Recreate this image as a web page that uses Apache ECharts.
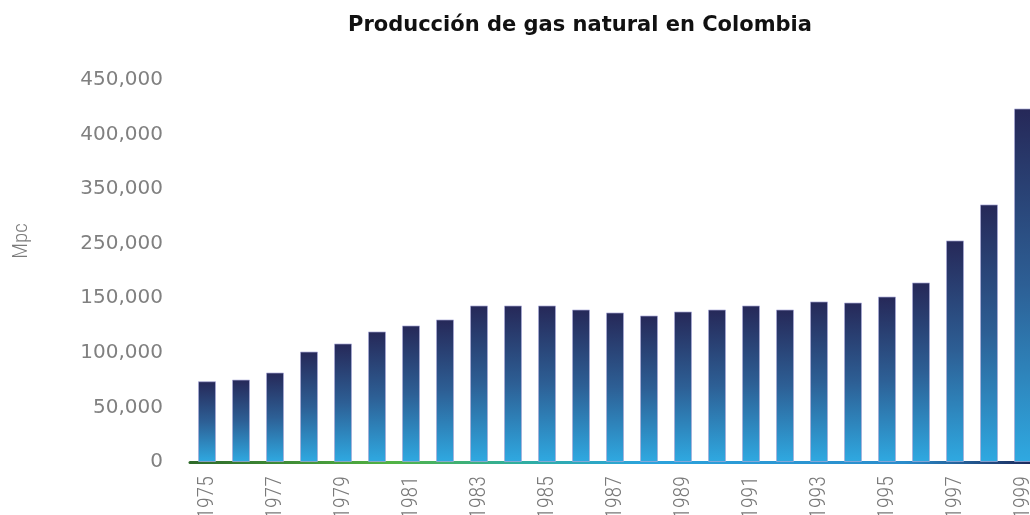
<!DOCTYPE html>
<html>
<head>
<meta charset="utf-8">
<script src="https://cdn.jsdelivr.net/npm/echarts@6/dist/echarts.min.js"></script>
<style>
  html, body { margin: 0; padding: 0; background: #fff; }
  #chart { width: 1030px; height: 515px; }
</style>
</head>
<body>
<div id="chart"></div>
<script>
const years = ['1975', '1976', '1977', '1978', '1979', '1980', '1981', '1982', '1983', '1984',
  '1985', '1986', '1987', '1988', '1989', '1990', '1991', '1992', '1993', '1994',
  '1995', '1996', '1997', '1998', '1999']
const produccion = [74000, 75500, 82000, 101200, 108600, 119600, 125100, 130600, 143400, 143400,
  143400, 139700, 137000, 134200, 137900, 139700, 143400, 139700, 147100, 146100,
  151600, 164500, 203000, 236000, 323900]
// etiquetas tal como aparecen en el eje (una por cada paso de 50.000)
const yTickLabels = ['0', '50,000', '100,000', '150,000', '250,000', '350,000', '400,000', '450,000']

const narrow = '"Roboto Condensed", "DejaVu Sans Condensed", sans-serif'

const chart = echarts.init(document.getElementById('chart'))

const option = {
  backgroundColor: '#fff',
  animation: false,
  title: {
    text: 'Producción de gas natural en Colombia',
    left: 343,
    top: 10,
    textStyle: { fontFamily: 'DejaVu Sans', fontWeight: 'bold', fontSize: 21, color: '#111' },
  },
  graphic: [
    {
      type: 'text',
      x: 22,
      y: 241,
      rotation: Math.PI / 2,
      style: {
        text: 'Mpc',
        fill: '#7a7a7a',
        font: '300 21px ' + narrow,
        textAlign: 'center',
        textVerticalAlign: 'middle',
      },
    },
  ],
  grid: { left: 190, right: -10, top: 80, bottom: 53, containLabel: false, outerBoundsMode: 'none' },
  xAxis: {
    type: 'category',
    data: years,
    axisTick: { show: false },
    axisLine: {
      lineStyle: {
        width: 3,
        color: new echarts.graphic.LinearGradient(190, 0, 1030, 0, [
          { offset: 0, color: '#2e6a2a' },
          { offset: 0.24, color: '#52b344' },
          { offset: 0.39, color: '#2fae9e' },
          { offset: 0.54, color: '#2ba3dc' },
          { offset: 0.85, color: '#2a8ccb' },
          { offset: 1, color: '#1c2a5c' },
        ], true),
      },
    },
    axisLabel: {
      interval: 1,
      rotate: 90,
      margin: 14,
      fontSize: 22,
      fontWeight: 300,
      fontFamily: narrow,
      color: '#7a7a7a',
    },
  },
  yAxis: {
    type: 'value',
    min: 0,
    max: 350000,
    interval: 50000,
    axisLine: { show: false },
    axisTick: { show: false },
    splitLine: { show: false },
    axisLabel: {
      margin: 27,
      fontSize: 20,
      fontFamily: 'DejaVu Sans',
      color: '#808080',
      formatter: (v) => yTickLabels[Math.round(v / 50000)],
    },
  },
  series: [
    {
      name: 'Producción',
      type: 'bar',
      data: produccion,
      barWidth: 18,
      itemStyle: {
        borderColor: 'rgba(170,170,215,0.7)',
        borderWidth: 1,
        color: new echarts.graphic.LinearGradient(0, 0, 0, 1, [
          { offset: 0, color: '#262858' },
          { offset: 0.5, color: '#2d5f95' },
          { offset: 1, color: '#2fa9e1' },
        ]),
      },
    },
  ],
}

chart.setOption(option)
</script>
</body>
</html>
